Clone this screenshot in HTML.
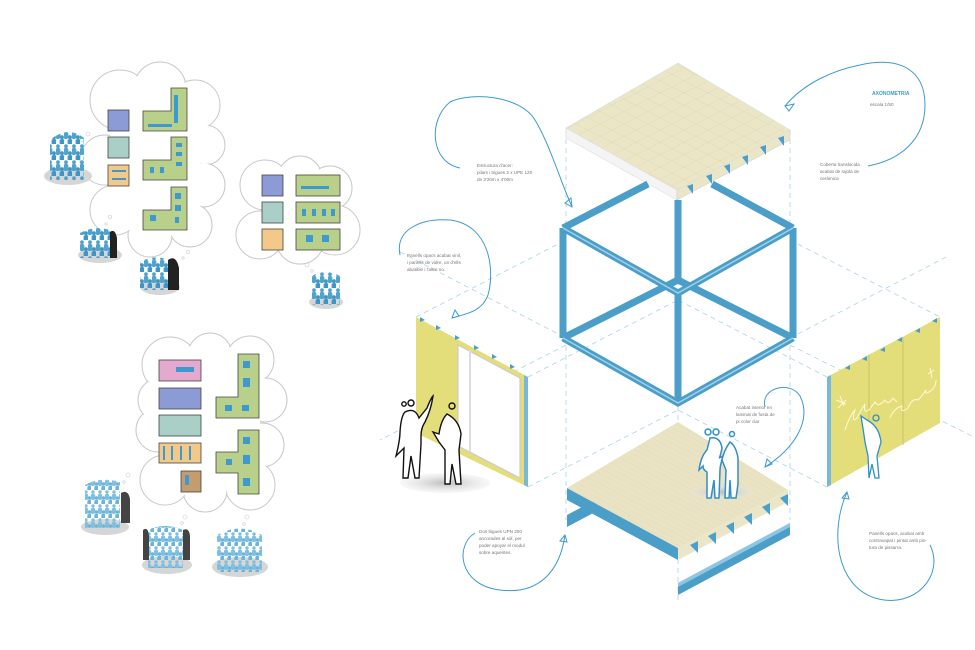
<!DOCTYPE html>
<html><head><meta charset="utf-8"><style>
html,body{margin:0;padding:0;background:#fff}
svg{display:block}
text{font-family:"Liberation Sans",sans-serif;fill:#777;font-size:4.6px}
</style></head><body>
<svg width="975" height="650" viewBox="0 0 975 650" xmlns="http://www.w3.org/2000/svg">
<defs>
<pattern id="crowd" width="8" height="16" patternUnits="userSpaceOnUse">
<circle cx="2" cy="2.2" r="1.9" fill="#4fa3cf"/>
<rect x="-0.4" y="4" width="4.8" height="7" rx="2" fill="#4fa3cf"/>
<circle cx="6" cy="9.2" r="1.9" fill="#3f96c6"/>
<rect x="3.6" y="11" width="4.8" height="7" rx="2" fill="#3f96c6"/>
</pattern>
<pattern id="crowd2" width="7" height="14" patternUnits="userSpaceOnUse">
<circle cx="2" cy="2" r="1.7" fill="#7fc0e0"/>
<rect x="-0.2" y="3.7" width="4.4" height="6.3" rx="2" fill="#7fc0e0"/>
<circle cx="5.5" cy="8" r="1.7" fill="#6cb4da"/>
<rect x="3.3" y="9.7" width="4.4" height="6.3" rx="2" fill="#6cb4da"/>
</pattern>
<pattern id="grid" width="12" height="12" patternUnits="userSpaceOnUse" patternTransform="matrix(1,0.515,-1,0.515,0,0)">
<rect width="12" height="12" fill="#ebe6c6"/>
<path d="M0 0H12M0 0V12" stroke="#d9d3b0" stroke-width="0.6"/>
</pattern>
<pattern id="wood" width="5" height="5" patternUnits="userSpaceOnUse" patternTransform="matrix(1,0.52,-1,0.52,0,0)">
<rect width="5" height="5" fill="#e9e3c3"/>
<path d="M0 0H5" stroke="#ddd6b3" stroke-width="0.5"/>
</pattern>
<radialGradient id="sh"><stop offset="0" stop-color="#bdbdbd"/><stop offset="1" stop-color="#e6e6e6" stop-opacity="0.3"/></radialGradient>
</defs>

<g stroke="#c8c8c8" stroke-width="1" fill="#fff">
<g>
<circle cx="120" cy="100" r="30"/><circle cx="160" cy="88" r="26"/><circle cx="195" cy="105" r="25"/><circle cx="205" cy="145" r="20"/><circle cx="203" cy="185" r="22"/><circle cx="190" cy="225" r="22"/><circle cx="150" cy="235" r="22"/><circle cx="115" cy="210" r="25"/><circle cx="105" cy="160" r="25"/>
</g>
<g>
<circle cx="265" cy="185" r="25"/><circle cx="300" cy="178" r="22"/><circle cx="330" cy="188" r="22"/><circle cx="335" cy="230" r="25"/><circle cx="300" cy="240" r="24"/><circle cx="260" cy="235" r="24"/>
</g>
<g>
<circle cx="170" cy="365" r="28"/><circle cx="210" cy="355" r="22"/><circle cx="250" cy="360" r="24"/><circle cx="265" cy="400" r="22"/><circle cx="262" cy="445" r="22"/><circle cx="250" cy="485" r="25"/><circle cx="205" cy="490" r="22"/><circle cx="165" cy="480" r="25"/><circle cx="158" cy="430" r="22"/><circle cx="160" cy="400" r="22"/>
</g>
</g>
<g fill="#fff">
<circle cx="120" cy="100" r="29"/><circle cx="160" cy="88" r="25"/><circle cx="195" cy="105" r="24"/><circle cx="205" cy="145" r="19"/><circle cx="203" cy="185" r="21"/><circle cx="190" cy="225" r="21"/><circle cx="150" cy="235" r="21"/><circle cx="115" cy="210" r="24"/><circle cx="105" cy="160" r="24"/><rect x="110" y="95" width="90" height="130"/>
<circle cx="265" cy="185" r="24"/><circle cx="300" cy="178" r="21"/><circle cx="330" cy="188" r="21"/><circle cx="335" cy="230" r="24"/><circle cx="300" cy="240" r="23"/><circle cx="260" cy="235" r="23"/><rect x="262" y="180" width="75" height="55"/>
<circle cx="170" cy="365" r="27"/><circle cx="210" cy="355" r="21"/><circle cx="250" cy="360" r="23"/><circle cx="265" cy="400" r="21"/><circle cx="262" cy="445" r="21"/><circle cx="250" cy="485" r="24"/><circle cx="205" cy="490" r="21"/><circle cx="165" cy="480" r="24"/><circle cx="158" cy="430" r="21"/><circle cx="160" cy="400" r="21"/><rect x="165" y="360" width="95" height="125"/>
</g>
<g fill="none" stroke="#ccc" stroke-width="0.6">
<circle cx="88" cy="134" r="2"/><circle cx="82" cy="140" r="1.4"/>
<circle cx="110" cy="217" r="1.8"/><circle cx="106" cy="224" r="1.2"/>
<circle cx="188" cy="252" r="1.8"/><circle cx="183" cy="258" r="1.2"/>
<circle cx="307" cy="265" r="2"/><circle cx="312" cy="271" r="1.3"/>
<circle cx="128" cy="475" r="2"/><circle cx="124" cy="482" r="1.3"/>
<circle cx="185" cy="517" r="2"/><circle cx="182" cy="523" r="1.3"/>
<circle cx="247" cy="517" r="2"/><circle cx="244" cy="524" r="1.3"/>
</g>

<g stroke="#444" stroke-width="0.8">
<rect x="108" y="110" width="21" height="21" fill="#8c9bd6"/>
<rect x="108" y="137" width="21" height="21" fill="#a9cfc7"/>
<rect x="108" y="165" width="21" height="21" fill="#f3c989"/>
<path d="M171 88H187V131H143V111H171Z" fill="#b9d08a"/>
<path d="M171 137H187V180H143V160H171Z" fill="#b9d08a"/>
<path d="M171 187H187V230H143V210H171Z" fill="#b9d08a"/>
<rect x="262" y="175" width="21" height="21" fill="#8c9bd6"/>
<rect x="262" y="202" width="21" height="21" fill="#a9cfc7"/>
<rect x="262" y="229" width="21" height="21" fill="#f3c989"/>
<rect x="296" y="175" width="44" height="21" fill="#b9d08a"/>
<rect x="296" y="202" width="44" height="21" fill="#b9d08a"/>
<rect x="296" y="229" width="44" height="21" fill="#b9d08a"/>
<rect x="159" y="360" width="42" height="21" fill="#e3a9cf"/>
<rect x="159" y="388" width="42" height="21" fill="#8c9bd6"/>
<rect x="159" y="415" width="42" height="21" fill="#a9cfc7"/>
<rect x="159" y="443" width="42" height="20" fill="#f3c989"/>
<rect x="181" y="471" width="20" height="21" fill="#c49c6e"/>
<path d="M238 354H259V418H216V397H238Z" fill="#b9d08a"/>
<path d="M238 430H259V494H238V473H216V452H238Z" fill="#b9d08a"/>
</g>
<g fill="#3c9ad0">
<rect x="112" y="170" width="14" height="2"/><rect x="112" y="178" width="14" height="2"/>
<rect x="174" y="95" width="4" height="28"/><rect x="148" y="124" width="24" height="3"/>
<rect x="176" y="143" width="6" height="4"/><rect x="176" y="152" width="6" height="4"/><rect x="176" y="162" width="6" height="4"/><rect x="150" y="167" width="4" height="6"/><rect x="160" y="167" width="4" height="6"/>
<rect x="175" y="193" width="6" height="6"/><rect x="175" y="205" width="6" height="6"/><rect x="150" y="215" width="6" height="6"/><rect x="175" y="217" width="4" height="6"/>
<rect x="301" y="186" width="28" height="3"/><rect x="302" y="209" width="4" height="7"/><rect x="312" y="209" width="4" height="7"/><rect x="322" y="209" width="4" height="7"/><rect x="331" y="209" width="4" height="7"/>
<rect x="306" y="235" width="7" height="7"/><rect x="322" y="235" width="7" height="7"/>
<rect x="176" y="367" width="18" height="5"/><rect x="163" y="446" width="2" height="14"/><rect x="171" y="446" width="2" height="14"/><rect x="180" y="446" width="2" height="14"/><rect x="189" y="446" width="2" height="14"/>
<rect x="243" y="361" width="7" height="7"/><rect x="243" y="378" width="7" height="9"/><rect x="225" y="405" width="7" height="6"/><rect x="242" y="405" width="7" height="6"/>
<rect x="243" y="437" width="7" height="7"/><rect x="243" y="455" width="7" height="9"/><rect x="226" y="459" width="6" height="6"/><rect x="243" y="478" width="7" height="8"/>
<rect x="185" y="475" width="4" height="10"/>
</g>

<g>
<ellipse cx="68" cy="176" rx="24" ry="9" fill="#d6d6d6"/>
<path d="M50 140Q68 125 84 138V180H50Z" fill="url(#crowd)"/>
<ellipse cx="100" cy="255" rx="22" ry="8" fill="#d6d6d6"/>
<path d="M80 233Q95 225 110 230V258H80Z" fill="url(#crowd)"/>
<path d="M110 232q5 -4 7 6v20h-7z" fill="#222"/>
<ellipse cx="160" cy="287" rx="20" ry="8" fill="#d6d6d6"/>
<path d="M140 262Q155 254 168 260V290H140Z" fill="url(#crowd)"/>
<path d="M168 260q8 -6 11 8v22h-11z" fill="#222"/>
<ellipse cx="326" cy="302" rx="17" ry="7" fill="#d6d6d6"/>
<path d="M312 276Q325 268 340 276V305H312Z" fill="url(#crowd)"/>
<ellipse cx="105" cy="527" rx="24" ry="8" fill="#d6d6d6"/>
<path d="M85 485Q100 476 120 482V528H85Z" fill="url(#crowd2)"/>
<path d="M121 493q7 -4 9 6v24h-9z" fill="#444"/>
<ellipse cx="167" cy="565" rx="25" ry="9" fill="#d6d6d6"/>
<path d="M148 530Q165 522 183 530V568H148Z" fill="url(#crowd2)"/>
<path d="M143 530q5 -4 6 6v24h-6zM183 530q6 -3 7 6v24h-7z" fill="#444"/>
<ellipse cx="240" cy="567" rx="28" ry="10" fill="#d6d6d6"/>
<path d="M217 535Q240 522 262 535V572H217Z" fill="url(#crowd2)"/>
</g>

<g stroke="#a9d3ec" stroke-width="0.8" stroke-dasharray="5 4" fill="none">
<path d="M566 130V520M790 130V520M678 190V600"/>
<path d="M400 252L566 338M416 317L566 240M528 377L678 300M528 487L678 410"/>
<path d="M790 338L950 255M790 240L940 317M827 377L678 300M827 487L678 410"/>
<path d="M790 345L980 440M566 345L380 440"/>
</g>

<polygon points="566,128 566,138 677,200 677,190" fill="#f4f4f4" stroke="#ddd" stroke-width="0.6"/>
<polygon points="677,190 790,130 790,140 677,200" fill="#ece6c8" stroke="#ccc" stroke-width="0.5"/>
<polygon points="678,63 790,130 677,190 566,128" fill="url(#grid)" stroke="#ddd" stroke-width="0.6"/>
<g fill="#4a9fcb">
<polygon points="687,186 693,184 693,194"/><polygon points="706,176 712,174 712,184"/><polygon points="724,166 730,164 730,174"/><polygon points="742,157 748,155 748,165"/><polygon points="760,147 766,145 766,155"/><polygon points="778,138 784,136 784,146"/>
</g>

<g fill="none" stroke-linejoin="miter">
<g stroke="#4a9ec8" stroke-width="7">
<path d="M678 200V280M678 280L563 338M678 280L793 338"/>
<path d="M563 228L648 184M793 228L712 184"/>
<path d="M563 228L678 293L793 228M563 228V338M793 228V338M678 293V403M563 338L678 403L793 338"/>
</g>
<g stroke="#9fd0ea" stroke-width="1.5">
<path d="M563 228L678 293L793 228M563 338L678 403L793 338"/>
</g>
</g>

<g>
<polygon points="567,515 567,527 597,511 597,499" fill="#4a9ec8"/>
<polygon points="678,583 790,523 790,535 678,595" fill="#4a9ec8"/>
<polygon points="678,583 790,523 790,527 678,587" fill="#8fc6e3"/>
<polygon points="567,488 567,500 678,560 678,548" fill="#4a9ec8"/>
<polygon points="678,548 788,490 788,502 678,560" fill="#ece6c8"/>
<polygon points="678,422 788,490 678,548 567,488" fill="url(#wood)"/>
<g fill="#4a9fcb">
<polygon points="690,545 698,541 698,553"/><polygon points="708,536 716,532 716,544"/><polygon points="726,526 734,522 734,534"/><polygon points="744,517 752,513 752,525"/><polygon points="762,507 770,503 770,515"/><polygon points="780,498 788,494 788,506"/>
</g>
<ellipse cx="722" cy="492" rx="32" ry="7" fill="url(#sh)"/>
<g fill="#fff" stroke="#2f8fc8" stroke-width="1.5">
<path d="M710 438q10 -2 12 10q-2 10 -3 10l4 -2q-3 10 -3 14l-1 28h-4l-1 -18l-3 18h-4l0 -26q-4 -2 -4 -6l-4 4q2 -14 8 -20z"/>
<path d="M730 442q6 4 8 16v26l-2 14h-5l-1 -18l-1 18h-4l1 -28l-4 -10q2 -10 8 -18z"/>
<circle cx="708" cy="432" r="3" fill="none"/><circle cx="716" cy="432" r="3" fill="none"/><circle cx="732" cy="434" r="2.5" fill="none"/>
</g>
</g>

<g>
<polygon points="416,317 528,377 528,487 416,433" fill="#e3dd7a"/>
<polygon points="458,345 520,378 520,478 458,446" fill="#fff" stroke="#ccc" stroke-width="1.2"/>
<line x1="470" y1="350" x2="470" y2="452" stroke="#ddd" stroke-width="2"/>
<polygon points="524,375 528,377 528,487 524,485" fill="#79b8db"/>
<g fill="#4a9fcb">
<polygon points="420,317 425,320 420,322"/><polygon points="436,325 441,328 436,330"/><polygon points="455,335 460,338 455,340"/><polygon points="474,345 479,348 474,350"/><polygon points="492,354 497,357 492,359"/><polygon points="510,364 515,367 510,369"/>
</g>
<ellipse cx="445" cy="483" rx="45" ry="10" fill="url(#sh)"/>
<g fill="#fff" stroke="#111" stroke-width="1.4">
<path d="M405 412q10 -5 14 6l8 -10q4 -10 6 -12q-2 14 -8 26q-4 6 -4 14v8l-2 34h-4l-4 -22l-3 22h-5l1 -30q-8 8 -8 8q4 -16 4 -24q1 -16 5 -20z"/>
<path d="M447 414q12 6 14 20l-2 16l2 34h-5l-4 -20l-2 20h-5l0 -34l-6 -8l-6 -10l6 2q2 -14 8 -20z"/>
<circle cx="404" cy="404" r="2.2" fill="none"/><circle cx="411" cy="403" r="3" fill="none"/><circle cx="452" cy="406" r="3" fill="none"/>
</g>
</g>

<g>
<polygon points="827,377 940,317 940,423 827,487" fill="#e3dd7a"/>
<polygon points="827,377 831,375 831,485 827,487" fill="#79b8db"/>
<g stroke="#bdb760" stroke-width="0.7"><line x1="869" y1="355" x2="869" y2="463"/><line x1="903" y1="337" x2="903" y2="445"/></g>
<g fill="#4a9fcb">
<polygon points="845,368 850,365 850,370"/><polygon points="862,359 867,356 867,361"/><polygon points="880,350 885,347 885,352"/><polygon points="897,340 902,337 902,342"/><polygon points="915,331 920,328 920,333"/><polygon points="932,321 937,318 937,323"/>
</g>
<g fill="none" stroke="#fffbd8" stroke-width="1">
<path d="M845 430q5 -15 10 -20q-4 14 2 8q4 -8 8 -14q-2 10 4 6l6 -8q3 6 10 -2q3 6 8 -2l4 4"/>
<path d="M890 418q4 -10 12 -12q-2 8 6 2q4 -10 10 -8q4 -4 8 -10q-2 6 6 0q4 -4 4 -10"/>
<path d="M836 400l10 4M840 396l4 10M838 408l8 -8M928 374l6 -4M930 368l2 10"/>
</g>
<g fill="#fff" stroke="#2f8fc8" stroke-width="1.3">
<path d="M867 420q12 6 14 22l-4 14l2 22h-4l-3 -14l-3 14l-1 -22l-3 -14q-2 -14 -4 -26z"/>
<circle cx="876" cy="418" r="3" fill="none"/>
</g>
</g>

<g fill="none" stroke="#3d9ad1" stroke-width="1">
<path d="M785 106C805 82 835 70 860 65C900 56 925 70 925 105C925 140 900 160 868 166"/>
<path d="M460 168C430 162 428 120 450 102C470 92 520 95 535 120C550 145 560 180 572 207"/>
<path d="M400 255C395 230 420 218 450 220C490 225 495 270 488 295C482 312 465 314 452 318"/>
<path d="M765 407C760 388 790 380 800 396C812 420 795 448 765 467"/>
<path d="M475 533C455 545 458 585 500 590C540 595 560 570 565 535"/>
<path d="M847 492C830 530 835 585 875 598C915 610 945 575 930 545"/>
</g>
<g fill="none" stroke="#3d9ad1" stroke-width="1">
<path d="M785 106l9 -2l-5 7z"/><path d="M572 207l-1 -9l-6 5z"/><path d="M452 318l3 -8l4 6z"/><path d="M765 467l2 -8l5 5z"/><path d="M565 535l-5 6l7 1z"/><path d="M847 492l-5 6l7 1z"/>
</g>

<text x="872" y="95" style="fill:#3d9ad1;font-weight:bold;font-size:5px">AXONOMETRIA</text>
<text x="870" y="106">escala 1/50</text>
<text x="820" y="166">Coberta translúcida</text>
<text x="820" y="173">acabat de rajola de</text>
<text x="820" y="180">ceràmica</text>
<text x="477" y="167">Estructura d'acer:</text>
<text x="477" y="174">pilars i bigues 2 x UPE 120</text>
<text x="477" y="181">de 3'20m x 4'00m</text>
<text x="407" y="257">Panells opacs acabat vinil,</text>
<text x="407" y="264">i panells de vidre, un d'ells</text>
<text x="407" y="271">abatible i l'altre no.</text>
<text x="736" y="409">Acabat interior en</text>
<text x="736" y="416">laminat de fusta de</text>
<text x="736" y="423">pi color clar</text>
<text x="479" y="533">Dos bigues UPN 200</text>
<text x="479" y="540">ancorades al sòl, per</text>
<text x="479" y="547">poder apoyar el modul</text>
<text x="479" y="554">sobre aquestes.</text>
<text x="869" y="535">Panells opacs, acabat amb</text>
<text x="869" y="542">contraxapat i pintat amb pin-</text>
<text x="869" y="549">tura de pissarra.</text>
</svg>
</body></html>
